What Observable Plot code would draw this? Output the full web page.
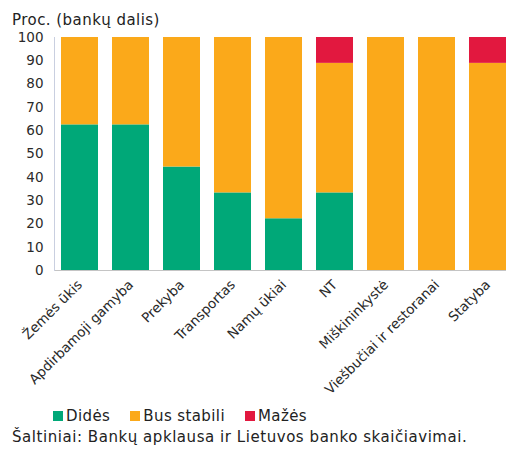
<!DOCTYPE html>
<html>
<head>
<meta charset="utf-8">
<script src="https://cdn.jsdelivr.net/npm/d3@7"></script>
<script src="https://cdn.jsdelivr.net/npm/@observablehq/plot@0.6"></script>
<style>
  body { margin: 0; background: #fff; font-family: "DejaVu Sans", sans-serif; color: #222; }
  #wrap { position: relative; width: 506px; height: 452px; overflow: hidden; }
  #chart { position: absolute; left: 0; top: 0; }
  .ytitle { position: absolute; left: 12px; top: 13px; font-size: 15px; letter-spacing: 0.45px; color: #222; white-space: nowrap; line-height: 15px; }
  .legend { position: absolute; left: 53px; top: 407px; font-size: 15px; letter-spacing: 0.4px; color: #222; display: flex; white-space: nowrap; line-height: 18px; }
  .legend span.item { display: inline-flex; align-items: center; margin-right: 20px; }
  .legend i { display: inline-block; width: 10px; height: 10px; margin-right: 3px; }
  .caption { position: absolute; left: 12px; top: 428px; font-size: 15px; letter-spacing: 0.55px; color: #222; white-space: nowrap; line-height: 18px; }
</style>
</head>
<body>
<div id="wrap">
  <div id="chart"></div>
  <div class="ytitle">Proc. (bankų dalis)</div>
  <div class="legend" id="legend"></div>
  <div class="caption">Šaltiniai: Bankų apklausa ir Lietuvos banko skaičiavimai.</div>
</div>
<script>
const categories = ["Žemės ūkis", "Apdirbamoji gamyba", "Prekyba", "Transportas", "Namų ūkiai", "NT", "Miškininkystė", "Viešbučiai ir restoranai", "Statyba"];
const seriesNames = ["Didės", "Bus stabili", "Mažės"];
const seriesColors = ["#00a878", "#fba91a", "#e2183f"];
const didesValues = [62.5, 62.5, 44.4, 33.3, 22.2, 33.3, 0, 0, 0];
const stabiliValues = [37.5, 37.5, 55.6, 66.7, 77.8, 55.6, 100, 100, 88.9];
const mazesValues = [0, 0, 0, 0, 0, 11.1, 0, 0, 11.1];
const yTicks = [0, 10, 20, 30, 40, 50, 60, 70, 80, 90, 100];

const seriesValues = [didesValues, stabiliValues, mazesValues];
const data = categories.flatMap((c, i) =>
  seriesNames.map((s, k) => ({cat: c, series: s, value: seriesValues[k][i]}))
);

const chart = Plot.plot({
  width: 506,
  height: 400,
  marginTop: 37,
  marginBottom: 130,
  marginLeft: 54,
  marginRight: 0,
  style: {fontFamily: "DejaVu Sans, sans-serif", fontSize: "13px", color: "#2a2a2a", background: "transparent", overflow: "visible"},
  x: {domain: categories, range: [54, 513], paddingInner: 0.275, paddingOuter: 0.137, label: null},
  y: {domain: [0, 100], label: null},
  color: {domain: seriesNames, range: seriesColors},
  marks: [
    Plot.barY(data, Plot.stackY({x: "cat", y: "value", fill: "series"})),
    Plot.ruleY([0], {stroke: "#c4c4c4"}),
    Plot.frame({anchor: "left", stroke: "#c9cfe0"}),
    Plot.axisY({ticks: yTicks, tickSize: 0, tickPadding: 11, label: null, fontSize: 13.5}),
    Plot.axisX({tickSize: 0, tickRotate: -45, tickPadding: 12, label: null, fontSize: 13.5})
  ]
});
document.getElementById("chart").appendChild(chart);

const legend = document.getElementById("legend");
seriesNames.forEach((s, k) => {
  const item = document.createElement("span");
  item.className = "item";
  const sw = document.createElement("i");
  sw.style.background = seriesColors[k];
  item.appendChild(sw);
  item.appendChild(document.createTextNode(s));
  legend.appendChild(item);
});
</script>
</body>
</html>
